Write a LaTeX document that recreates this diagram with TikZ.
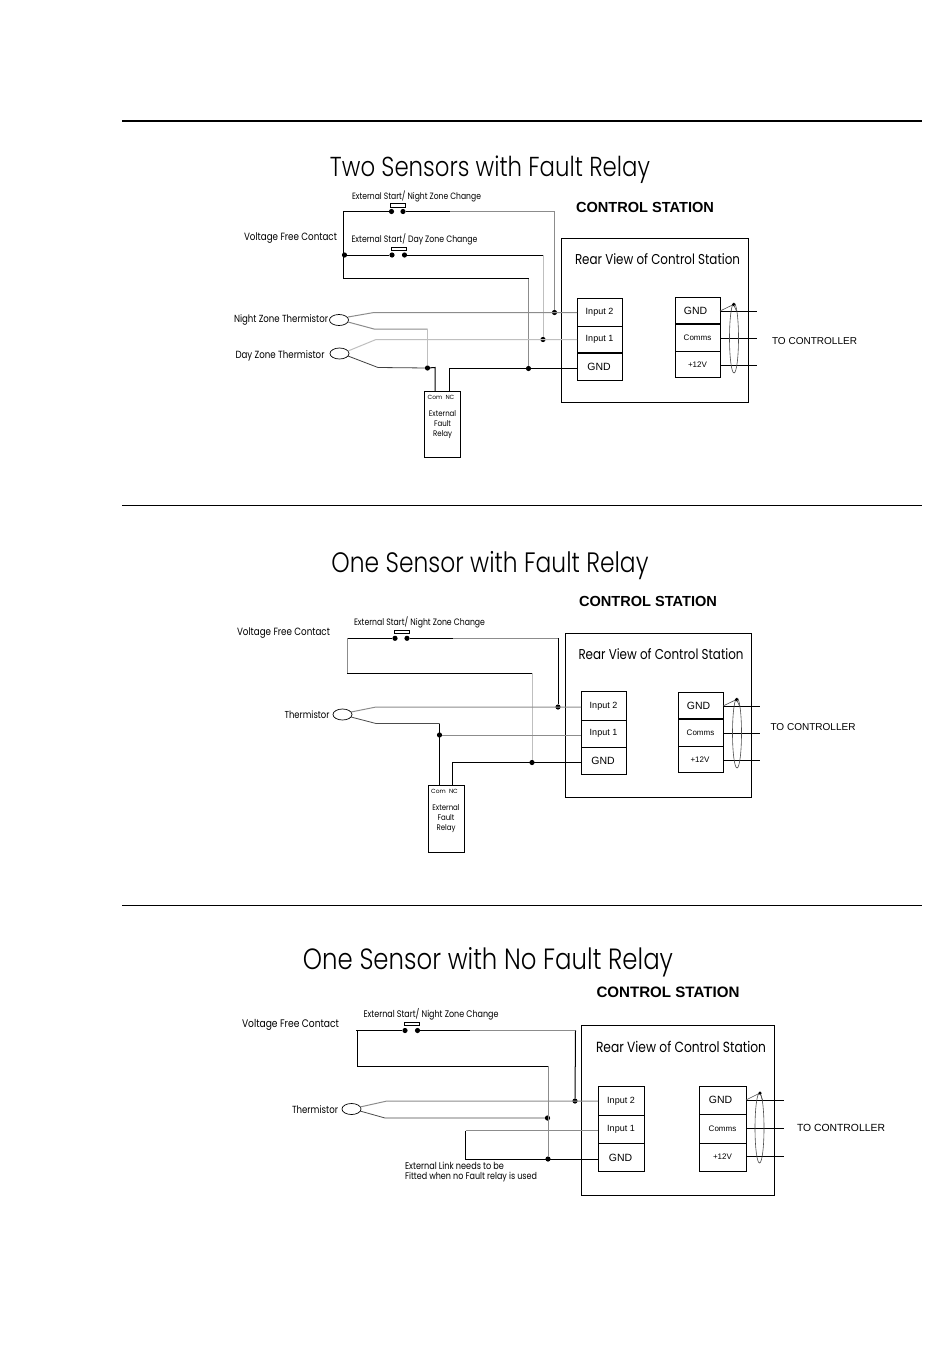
\documentclass[tikz,border=0pt]{standalone}
\usepackage{fontspec}
\usepackage{graphicx}
\setmainfont{Poppins Light}
\newfontfamily\hv{Liberation Sans}
\newfontfamily\pp{Poppins}
\newcommand{\fw}[2]{\scalebox{1}[1.2]{\resizebox{#1pt}{!}{#2}}}
\newcommand{\fh}[2]{\resizebox{#1pt}{!}{#2}}
\tikzset{
  wire/.style={line width=1pt,black},
  lwire/.style={line width=1pt,black!45},
  pale/.style={line width=1pt,black!25},
  rule/.style={line width=.8pt,black},
  frame/.style={draw,line width=1pt,rectangle,inner sep=0,outer sep=0},
  term/.style={frame,minimum width=45pt,font=\hv\fontsize{10.5}{12}\selectfont,text=black},
  smallterm/.style={term,font=\hv\fontsize{8}{10}\selectfont},
  dot/.style={circle,fill=black,inner sep=0,minimum size=5.2pt,outer sep=0},
  txt/.style={inner sep=0,outer sep=0,text=black},
  gtxt/.style={txt,yshift=-1pt,font=\pp},
  ttl/.style={txt,yshift=-3pt},
  sens/.style={draw,ellipse,line width=.7pt,inner sep=0,outer sep=0,minimum width=19pt,minimum height=11pt},
  shield/.style={draw,ellipse,line width=.6pt,black!70,inner sep=0,outer sep=0,minimum width=9pt,minimum height=70pt},
  swbar/.style={frame,minimum width=15pt,minimum height=3.5pt},
  relaybox/.style={frame,minimum width=36pt,align=center,font=\pp\fontsize{7}{10}\selectfont,text=black},
}
\usetikzlibrary{shapes.geometric}
\begin{document}
\begin{tikzpicture}[x=1pt,y=-1pt]
\useasboundingbox (0,0) rectangle (950,1360);
\fill[white] (0,0) rectangle (950,1360);

% rules
\coordinate (r1a) at (122,121); \coordinate (r1b) at (922,121);
\coordinate (r2a) at (122,505); \coordinate (r2b) at (922,505);
\coordinate (r3a) at (122,905); \coordinate (r3b) at (922,905);
\draw[line width=2pt] (r1a) -- (r1b);
\draw[rule] (r2a) -- (r2b);
\draw[rule] (r3a) -- (r3b);

% ================= SECTION 1 =================
\node[ttl] (t1) at (490,167) {\fw{320}{Two Sensors with Fault Relay}};
\node[txt] (cs1) at (645,207) {\fh{138}{\hv\bfseries CONTROL STATION}};
\node[frame,minimum width=187pt,minimum height=164pt] (box1) at (654.5,320) {};
\node[gtxt] (rv1) at (657.5,258) {\fw{165}{Rear View of Control Station}};
\node[term,minimum height=28.5pt] (a2) at (599.5,312.5) {\fontsize{9}{10}\selectfont Input 2};
\node[term,minimum height=26.5pt] (a1) at (599.5,339.7) {\fontsize{9}{10}\selectfont Input 1};
\node[term,minimum height=27pt] (a0) at (599.5,366.5) {\kern-1pt GND};
\node[term,minimum height=27pt] (b1) at (697.5,310.5) {\kern-4pt GND};
\node[smallterm,minimum height=27.5pt] (b2) at (697.5,337.7) {Comms};
\node[smallterm,minimum height=26.5pt] (b3) at (697.5,364.7) {+12V};
\coordinate (be1) at (757,311); \coordinate (be2) at (757,338); \coordinate (be3) at (757,365);
\draw[wire] (b1.east |- be1) -- (be1);
\draw[wire] (b2.east |- be2) -- (be2);
\draw[wire] (b3.east |- be3) -- (be3);
\node[shield] (sh1) at (734,338) {};
\node[dot,minimum size=3.5pt] (shd1) at (733.5,304.5) {};
\draw[line width=.6pt,black!70] (720,311) -- (shd1) -- (736.5,311);
\node[txt] (tc1) at (814.5,341) {\fh{85}{\hv TO CONTROLLER}};

\node[gtxt] (sl1) at (416.5,195) {\fw{129}{External Start/ Night Zone Change}};
\node[swbar] (sb1) at (398,205.3) {};
\node[dot] (s1l) at (391.5,211.5) {}; \node[dot] (s1r) at (403,211.5) {};
\node[gtxt] (sl2) at (414.5,238.5) {\fw{126}{External Start/ Day Zone Change}};
\node[swbar] (sb2) at (399,248.8) {};
\node[dot] (s2l) at (392,255) {}; \node[dot] (s2r) at (404.5,255) {};
\node[gtxt] (vf1) at (290.5,237) {\fw{93}{Voltage Free Contact}};
\node[dot] (d1a) at (344.5,255) {};
\coordinate (c1a) at (343,211.5); \coordinate (c1b) at (343,278.5); \coordinate (c1c) at (528.5,278.5);
\coordinate (c1d) at (450,211.5); \coordinate (c1e) at (554.5,211.5);
\coordinate (c1f) at (543,255);
\node[dot] (d1b) at (554.5,312.5) {};
\node[dot] (d1c) at (543,339.5) {};
\node[dot] (d1d) at (528.5,368.5) {};
\node[dot] (d1e) at (427.5,368) {};
\draw[wire] (c1a) -- (s1l);
\draw[wire] (s1r) -- (c1d);
\draw[lwire] (c1d) -- (c1e) -- (d1b);
\draw[wire] (d1a) -- (s2l);
\draw[wire] (s2r) -- (c1f);
\draw[pale] (c1f) -- (d1c);
\draw[wire] (c1a) -- (c1b) -- (c1c);
\draw[lwire] (c1c) -- (d1d);

\node[gtxt] (nz) at (281,318.5) {\fw{94}{Night Zone Thermistor}};
\node[sens] (e1) at (339,320) {};
\node[gtxt] (dz) at (280,354.5) {\fw{89}{Day Zone Thermistor}};
\node[sens] (e2) at (339.5,353.5) {};
\coordinate (k1a) at (374,312.5); \coordinate (k1b) at (374,329); \coordinate (k1c) at (427.5,329);
\coordinate (k2a) at (376,339.5); \coordinate (k2b) at (378,367.5);
\coordinate (e1u) at (348,317); \coordinate (e1d) at (348,322);
\coordinate (e2u) at (348,351); \coordinate (e2d) at (348,356);
\draw[lwire] (e1u) -- (k1a) -- (a2.west |- k1a);
\draw[lwire] (e1d) -- (k1b) -- (k1c);
\draw[pale] (k1c) -- (d1e);
\draw[pale] (e2u) -- (k2a) -- (a1.west |- k2a);
\draw[line width=.8pt,black!75] (e2d) -- (k2b) -- (d1e);

\node[relaybox,minimum height=66pt] (rel1) at (442.5,424.5) {\scalebox{1}[1.15]{External}\\\scalebox{1}[1.15]{Fault}\\\scalebox{1}[1.15]{Relay}};
\node[gtxt,font=\pp\fontsize{6}{7}\selectfont] (rl1) at (441,396) {Com\ \ NC};
\coordinate (q1a) at (435,367.5); \coordinate (q1b) at (449.5,368.5);
\draw[wire] (d1e) -- (q1a) -- (q1a |- rel1.north);
\draw[wire] (q1b |- rel1.north) -- (q1b) -- (a0.west |- q1b);

% ================= SECTION 2 =================
\node[ttl] (t2) at (490,563) {\fw{317}{One Sensor with Fault Relay}};
\node[txt] (cs2) at (648,601) {\fh{138}{\hv\bfseries CONTROL STATION}};
\node[frame,minimum width=186pt,minimum height=164pt] (box2) at (658,715) {};
\node[gtxt] (rv2) at (661,653) {\fw{165}{Rear View of Control Station}};
\node[term,minimum height=28.5pt] (f2) at (603.5,706.2) {\fontsize{9}{10}\selectfont Input 2};
\node[term,minimum height=26.5pt] (f1) at (603.5,733.8) {\fontsize{9}{10}\selectfont Input 1};
\node[term,minimum height=27pt] (f0) at (603.5,760.7) {\kern-1pt GND};
\node[term,minimum height=27pt] (g1) at (700.5,705.5) {\kern-4pt GND};
\node[smallterm,minimum height=27.5pt] (g2) at (700.5,732.7) {Comms};
\node[smallterm,minimum height=26.5pt] (g3) at (700.5,759.7) {\kern-1pt +12V};
\coordinate (ge1) at (760,706); \coordinate (ge2) at (760,733); \coordinate (ge3) at (760,760);
\draw[wire] (g1.east |- ge1) -- (ge1);
\draw[wire] (g2.east |- ge2) -- (ge2);
\draw[wire] (g3.east |- ge3) -- (ge3);
\node[shield] (sh2) at (737,733) {};
\node[dot,minimum size=3.5pt] (shd2) at (736.5,699.5) {};
\draw[line width=.6pt,black!70] (723,706) -- (shd2) -- (739.5,706);
\node[txt] (tc2) at (813,727) {\fh{85}{\hv TO CONTROLLER}};

\node[gtxt] (sl3) at (419.5,621.5) {\fw{131}{External Start/ Night Zone Change}};
\node[swbar] (sb3) at (401.5,632.2) {};
\node[dot] (s3l) at (395,638.3) {}; \node[dot] (s3r) at (407,638.3) {};
\node[gtxt] (vf2) at (283.5,632) {\fw{93}{Voltage Free Contact}};
\coordinate (c2a) at (347,638.3); \coordinate (c2b) at (347,673); \coordinate (c2c) at (532,673);
\coordinate (c2d) at (453,638.3); \coordinate (c2e) at (558,638.3);
\node[dot] (d2b) at (558,707) {};
\node[dot] (d2d) at (532,762.5) {};
\node[dot] (d2e) at (439.5,735) {};
\draw[wire] (c2a) -- (s3l);
\draw[wire] (s3r) -- (c2d);
\draw[lwire] (c2d) -- (c2e);
\draw[wire] (c2e) -- (d2b);
\draw[lwire] (c2a) -- (c2b);
\draw[wire] (c2b) -- (c2c);
\draw[pale] (c2c) -- (d2d);

\node[gtxt] (th2) at (307,714) {\fw{45}{Thermistor}};
\node[sens] (e3) at (342.5,714.5) {};
\coordinate (e3u) at (351,712); \coordinate (e3d) at (351,717);
\coordinate (k3a) at (376,707); \coordinate (k3b) at (376,723.5); \coordinate (k3c) at (439.5,723.5);
\draw[lwire] (e3u) -- (k3a) -- (f2.west |- k3a);
\draw[line width=.8pt,black!70] (e3d) -- (k3b) -- (k3c);
\draw[lwire] (d2e) -- (f1.west |- d2e);

\node[relaybox,minimum height=67pt] (rel2) at (446,819) {\scalebox{1}[1.15]{External}\\\scalebox{1}[1.15]{Fault}\\\scalebox{1}[1.15]{Relay}};
\node[gtxt,font=\pp\fontsize{6}{7}\selectfont] (rl2) at (444.5,790) {Com\ \ NC};
\coordinate (q2b) at (452,762.5);
\draw[wire] (k3c) -- (k3c |- rel2.north);
\draw[wire] (q2b |- rel2.north) -- (q2b) -- (f0.west |- q2b);

% ================= SECTION 3 =================
\node[ttl] (t3) at (488,959) {\fw{370}{One Sensor with No Fault Relay}};
\node[txt] (cs3) at (668,992) {\fh{143}{\hv\bfseries CONTROL STATION}};
\node[frame,minimum width=193.5pt,minimum height=170pt] (box3) at (678.2,1110) {};
\node[gtxt] (rv3) at (681,1045.5) {\fw{170}{Rear View of Control Station}};
\node[term,minimum width=46pt,minimum height=29pt] (m2) at (621,1101) {\fontsize{9}{10}\selectfont Input 2};
\node[term,minimum width=46pt,minimum height=28pt] (m1) at (621,1129.5) {\fontsize{9}{10}\selectfont Input 1};
\node[term,minimum width=46pt,minimum height=28pt] (m0) at (621,1157.5) {\kern-1pt GND};
\node[term,minimum width=47pt,minimum height=28pt] (n1) at (722.5,1100) {\kern-4pt GND};
\node[smallterm,minimum width=47pt,minimum height=29pt] (n2) at (722.5,1128.5) {Comms};
\node[smallterm,minimum width=47pt,minimum height=28pt] (n3) at (722.5,1157) {+12V};
\coordinate (ne1) at (784,1100); \coordinate (ne2) at (784,1128); \coordinate (ne3) at (784,1156);
\draw[wire] (n1.east |- ne1) -- (ne1);
\draw[wire] (n2.east |- ne2) -- (ne2);
\draw[wire] (n3.east |- ne3) -- (ne3);
\node[shield] (sh3) at (759.5,1128) {};
\node[dot,minimum size=3.5pt] (shd3) at (760,1093) {};
\draw[line width=.6pt,black!70] (746,1100) -- (shd3) -- (762.5,1100);
\node[txt] (tc3) at (841,1128) {\fh{88}{\hv TO CONTROLLER}};

\node[gtxt] (sl4) at (431,1013) {\fw{135}{External Start/ Night Zone Change}};
\node[swbar] (sb4) at (412,1024) {};
\node[dot] (s4l) at (405,1030.5) {}; \node[dot] (s4r) at (417.5,1030.5) {};
\node[gtxt] (vf3) at (290.5,1024) {\fw{97}{Voltage Free Contact}};
\coordinate (c3a) at (356,1030.5); \coordinate (c3b) at (357,1066); \coordinate (c3c) at (548,1066);
\coordinate (c3d) at (470,1030.5); \coordinate (c3e) at (575.5,1030.5);
\node[dot] (d3b) at (575,1101) {};
\node[dot] (d3c) at (547.5,1118) {};
\node[dot] (d3d) at (548,1159) {};
\draw[wire] (c3a) -- (s4l);
\draw[wire] (s4r) -- (c3d);
\draw[lwire] (c3d) -- (c3e);
\draw[wire] (c3e) -- (d3b);
\draw[wire] (c3a -| c3b) -- (c3b) -- (c3c);
\draw[lwire] (c3c) -- (d3d);

\node[gtxt] (th3) at (315,1108.5) {\fw{46}{Thermistor}};
\node[sens] (e4) at (351.5,1109) {};
\coordinate (e4u) at (360,1107); \coordinate (e4d) at (360,1111);
\coordinate (k4a) at (387,1101); \coordinate (k4b) at (385,1118);
\draw[lwire] (e4u) -- (k4a) -- (m2.west |- k4a);
\draw[line width=.8pt,black!70] (e4d) -- (k4b) -- (d3c);
\coordinate (l3a) at (465.5,1130.5); \coordinate (l3b) at (465.5,1159);
\draw[lwire] (m1.west |- l3a) -- (l3a);
\draw[wire] (l3a) -- (l3b) -- (m0.west |- l3b);
\node[gtxt,anchor=west] (n31) at (405,1165) {\fw{99}{External Link needs to be}};
\node[gtxt,anchor=west] (n32) at (405,1176) {\fw{132}{Fitted when no Fault relay is used}};
\end{tikzpicture}
\end{document}
